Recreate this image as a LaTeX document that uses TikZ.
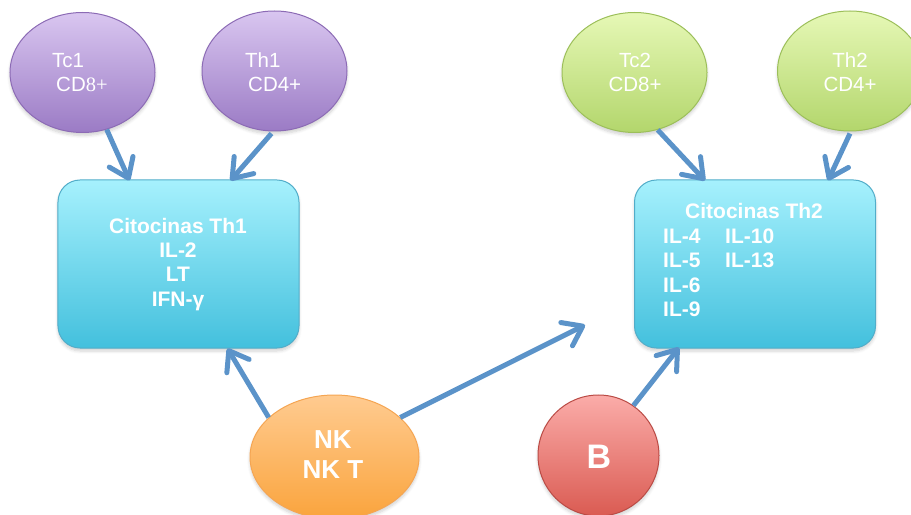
\documentclass[tikz,border=0pt]{standalone}
\usepackage{fontspec}
\setmainfont{Liberation Sans}
\newfontfamily\serifdigits{Liberation Serif}
\usetikzlibrary{shapes.geometric,arrows.meta,shadows.blur}
\definecolor{arrowblue}{HTML}{5B93C9}
\definecolor{purtop}{HTML}{D9C6F0}
\definecolor{purbot}{HTML}{9B7BC5}
\definecolor{purline}{HTML}{8C6BB5}
\definecolor{grntop}{HTML}{E6F8B6}
\definecolor{grnbot}{HTML}{B3D66C}
\definecolor{grnline}{HTML}{9CBF5A}
\definecolor{cyntop}{HTML}{A6F1FD}
\definecolor{cynbot}{HTML}{43C0DD}
\definecolor{cynline}{HTML}{52ADC9}
\definecolor{orgtop}{HTML}{FFCB90}
\definecolor{orgbot}{HTML}{FAA43D}
\definecolor{orgline}{HTML}{F5A552}
\definecolor{redtop}{HTML}{FBACA9}
\definecolor{redbot}{HTML}{DA5B52}
\definecolor{redline}{HTML}{BA4B45}
\tikzset{
  softshadow/.style={blur shadow={shadow xshift=0bp, shadow yshift=-3bp, shadow blur radius=3bp, shadow blur steps=6, shadow opacity=18}},
  cell/.style={ellipse, line width=1bp, inner sep=0pt, minimum width=145bp, minimum height=120bp, softshadow},
  purcell/.style={cell, draw=purline, top color=purtop, bottom color=purbot},
  grncell/.style={cell, draw=grnline, top color=grntop, bottom color=grnbot},
  cytobox/.style={rectangle, rounded corners=22bp, line width=1bp, draw=cynline, top color=cyntop, bottom color=cynbot, minimum width=241bp, minimum height=168bp, inner sep=0pt, softshadow},
  thin/.style={text=white, font=\fontsize{20.5bp}{24bp}\selectfont, inner sep=0pt},
  bold/.style={text=white, font=\fontsize{21bp}{24bp}\selectfont\bfseries, inner sep=0pt},
  arr/.style={draw=arrowblue, line width=5bp, -{Straight Barb[length=18bp,width=26bp,round]}},
}
\begin{document}
\begin{tikzpicture}[x=1bp,y=-1bp]
\useasboundingbox (0,0) rectangle (911,515);
% cells
\node[purcell] (tc1) at (82.5,72.5) {};
\node[purcell] (th1) at (274.5,71) {};
\node[grncell] (tc2) at (634.5,72.5) {};
\node[grncell] (th2) at (850,71) {};
\node[cytobox] (box1) at (178.5,264) {};
\node[cytobox] (box2) at (755,264) {};
\node[ellipse, line width=1bp, inner sep=0pt, draw=orgline, top color=orgtop, bottom color=orgbot, minimum width=169bp, minimum height=124bp, softshadow] (nk) at (334.5,457) {};
\node[circle, line width=1bp, inner sep=0pt, draw=redline, top color=redtop, bottom color=redbot, minimum size=121bp, softshadow] (b) at (598.5,455.5) {};
% texts
\node[thin, anchor=base west] (tc1a) at (52,68) {Tc1};
\node[thin, anchor=base west] (tc1b) at (56,92) {CD{\serifdigits 8+}};
\node[thin, anchor=base west] (th1a) at (245,68) {Th1};
\node[thin, anchor=base west] (th1b) at (248,92) {CD4+};
\node[thin, anchor=base] (tc2a) at (635,68) {Tc2};
\node[thin, anchor=base] (tc2b) at (635,92) {CD8+};
\node[thin, anchor=base] (th2a) at (850,68) {Th2};
\node[thin, anchor=base] (th2b) at (850,92) {CD4+};
\node[bold, anchor=base] (c1a) at (178,234) {Citocinas Th1};
\node[bold, anchor=base] (c1b) at (178,258) {IL-2};
\node[bold, anchor=base] (c1c) at (178,282) {LT};
\node[bold, anchor=base] (c1d) at (178,306.5) {IFN-γ};
\node[bold, anchor=base west] (c2a) at (685,219) {Citocinas Th2};
\node[bold, anchor=base west] (c2b) at (663,244) {IL-4};
\node[bold, anchor=base west] (c2c) at (725,244) {IL-10};
\node[bold, anchor=base west] (c2d) at (663,268) {IL-5};
\node[bold, anchor=base west] (c2e) at (725,268) {IL-13};
\node[bold, anchor=base west] (c2f) at (663,293) {IL-6};
\node[bold, anchor=base west] (c2g) at (663,317) {IL-9};
\node[text=white, font=\fontsize{26bp}{30bp}\selectfont\bfseries, inner sep=0pt, anchor=base] (nka) at (333,448) {NK};
\node[text=white, font=\fontsize{26bp}{30bp}\selectfont\bfseries, inner sep=0pt, anchor=base] (nkb) at (333,478) {NK T};
\node[text=white, font=\fontsize{34bp}{40bp}\selectfont\bfseries, inner sep=0pt, anchor=base] (bt) at (599,468) {B};
% arrows
\coordinate (free) at (585,325);
\draw[arr] (tc1.-67) -- ([xshift=72bp,yshift=-1bp]box1.north west);
\draw[arr] ([xshift=-3bp,yshift=-2bp]th1.south) -- ([xshift=173bp,yshift=-1bp]box1.north west);
\draw[arr] (tc2.-68) -- ([xshift=71bp,yshift=-1bp]box2.north west);
\draw[arr] ([yshift=-2bp]th2.south) -- ([xshift=194bp,yshift=-1bp]box2.north west);
\draw[arr] (nk.149) -- ([xshift=170bp]box1.south west);
\draw[arr] (nk.31) -- (free);
\draw[arr] (b.55) -- ([xshift=45bp,yshift=1bp]box2.south west);
\end{tikzpicture}
\end{document}
